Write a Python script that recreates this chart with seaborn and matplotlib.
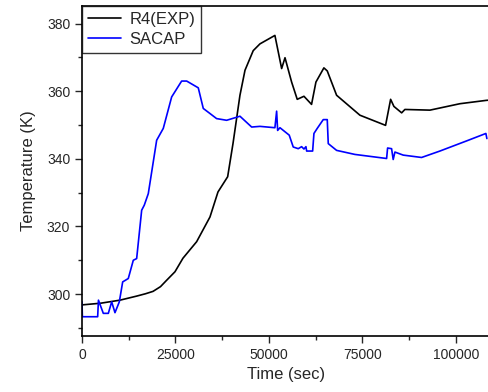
import pandas as pd
import matplotlib
matplotlib.use("Agg")
import matplotlib.pyplot as plt
import seaborn as sns
from matplotlib.ticker import MultipleLocator

# R4 (experiment)
exp_time = [0, 5000, 10160, 14620, 17000, 19000, 21000, 22650, 24870, 27000,
            30670, 34230, 36370, 38960, 40400, 42250, 43600, 45800, 47600, 51600,
            53400, 54300, 56070, 57570, 59370, 61400, 62570, 64700, 65600, 68100,
            74340, 81200, 82550, 83430, 85500, 86370, 93060, 101080, 108200, 109400]
exp_temp = [296.8, 297.3, 298.2, 299.4, 300.1, 300.8, 302.2, 304.1, 306.6, 310.6,
            315.5, 322.8, 330.2, 334.7, 344.6, 358.8, 366.2, 372.0, 374.0, 376.5,
            366.7, 369.9, 362.7, 357.6, 358.5, 356.1, 362.7, 366.9, 366.0, 358.8,
            352.9, 349.9, 357.6, 355.5, 353.6, 354.6, 354.4, 356.3, 357.3, 357.4]

# SACAP model
sacap_time = [0, 100, 4190, 4400, 5700, 7040, 7940, 8820, 9980, 10880,
              12380, 13720, 14620, 15960, 16660, 17730, 19970, 21740, 23980, 26650,
              28000, 31100, 32440, 34230, 36000, 38690, 42250, 45380, 47600, 51600,
              52060, 52330, 52950, 55430, 56500, 57840, 58740, 59370, 59900, 60090,
              61690, 62040, 62920, 64530, 65600, 65870, 68100, 73000, 81480, 81740,
              82810, 83240, 83700, 85920, 90830, 95730, 102870, 108030, 108300]
sacap_temp = [297.7, 293.3, 293.3, 298.2, 294.3, 294.3, 297.7, 294.5, 297.7, 303.6,
              304.6, 310.0, 310.5, 324.8, 326.3, 329.7, 345.5, 349.0, 358.3, 363.0,
              363.0, 361.0, 354.9, 353.4, 351.9, 351.4, 352.6, 349.4, 349.6, 349.2,
              354.1, 348.4, 349.2, 347.0, 343.5, 343.0, 343.6, 342.9, 343.6, 342.3,
              342.3, 347.5, 349.0, 351.6, 351.6, 344.5, 342.5, 341.3, 340.1, 343.2,
              343.0, 339.8, 342.0, 341.1, 340.4, 342.3, 345.3, 347.5, 346.0]

df = pd.concat([
    pd.DataFrame({"Time": exp_time, "Temp": exp_temp, "Series": "R4(EXP)"}),
    pd.DataFrame({"Time": sacap_time, "Temp": sacap_temp, "Series": "SACAP"}),
])

sns.set_style("ticks")
plt.rcParams["font.family"] = ["Liberation Sans", "DejaVu Sans"]

fig = plt.figure(figsize=(4.89, 3.92), dpi=100)
ax = fig.add_axes([82 / 489, 56 / 392, 409 / 489, 330 / 392])

sns.lineplot(
    data=df, x="Time", y="Temp", hue="Series",
    palette={"R4(EXP)": "black", "SACAP": "#0000ff"},
    sort=False, estimator=None, linewidth=1.2, ax=ax
)

ax.set_xlim(0, 109400)
ax.set_ylim(287.6, 385.2)
ax.xaxis.set_major_locator(MultipleLocator(25000))
ax.xaxis.set_minor_locator(MultipleLocator(12500))
ax.yaxis.set_major_locator(MultipleLocator(20))
ax.yaxis.set_minor_locator(MultipleLocator(10))
ax.tick_params(which="major", direction="out", length=5, width=1, labelsize=10)
ax.tick_params(which="minor", direction="out", length=3, width=1)
for s in ax.spines.values():
    s.set_linewidth(1.2)
    s.set_color("black")

ax.set_xlabel("Time (sec)", fontsize=12)
ax.set_ylabel("Temperature (K)", fontsize=12, labelpad=8)

leg = ax.legend(loc="upper left", fontsize=12, frameon=True, fancybox=False,
                borderaxespad=0, handlelength=2.0, borderpad=0.35,
                labelspacing=0.3, handletextpad=0.5)
leg.get_frame().set_edgecolor("black")
leg.get_frame().set_linewidth(1.0)

fig.savefig("out.png", dpi=100)
